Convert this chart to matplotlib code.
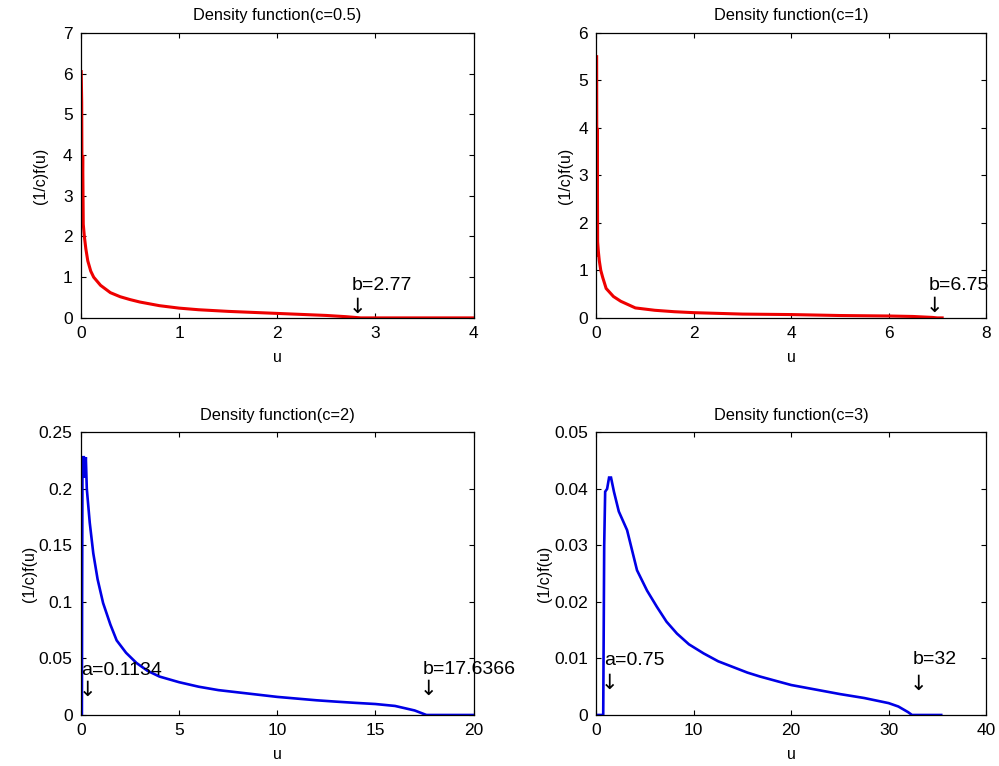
import matplotlib
matplotlib.use("Agg")
import matplotlib.pyplot as plt

plt.rcParams['font.family'] = ['Liberation Sans', 'DejaVu Sans']

# ---- data ----
u_c05 = [0.003, 0.008, 0.012, 0.018, 0.024, 0.035, 0.05, 0.07, 0.1, 0.13, 0.2, 0.3,
         0.4, 0.5, 0.6, 0.8, 1.0, 1.2, 1.5, 1.8, 2.0, 2.3, 2.5, 2.7, 2.8, 2.85, 4.0]
f_c05 = [6.05, 5.3, 2.8, 4.0, 2.3, 2.0, 1.7, 1.4, 1.15, 1.0, 0.8, 0.62,
         0.52, 0.45, 0.39, 0.3, 0.24, 0.2, 0.16, 0.13, 0.11, 0.08, 0.06, 0.03, 0.01, 0.0, 0.0]

u_c1 = [0.005, 0.012, 0.018, 0.025, 0.04, 0.06, 0.09, 0.13, 0.2, 0.35, 0.5, 0.8,
        1.2, 1.6, 2.0, 3.0, 4.0, 5.0, 6.0, 6.5, 6.9, 7.0, 7.1]
f_c1 = [5.5, 1.3, 4.0, 1.6, 1.4, 1.2, 1.0, 0.85, 0.62, 0.45, 0.35, 0.21,
        0.16, 0.13, 0.11, 0.08, 0.07, 0.05, 0.04, 0.03, 0.01, 0.0, 0.0]

u_c2 = [0.05, 0.06, 0.08, 0.15, 0.2, 0.25, 0.3, 0.45, 0.63, 0.85, 1.13, 1.5, 1.82,
        2.3, 2.83, 3.4, 4.0, 5, 6, 7, 8, 9, 10, 11, 12, 13, 14, 15, 16, 17, 17.6, 20]
f_c2 = [0.0, 0.1, 0.228, 0.228, 0.21, 0.228, 0.2, 0.17, 0.143, 0.12, 0.099, 0.08, 0.066,
        0.055, 0.046, 0.039, 0.034, 0.029, 0.025, 0.022, 0.02, 0.018, 0.016, 0.0145,
        0.013, 0.0118, 0.0107, 0.0097, 0.008, 0.004, 0.0, 0.0]

u_c3 = [0.0, 0.7, 0.75, 0.8, 0.9, 1.1, 1.3, 1.5, 1.8, 2.3, 3.15, 4.17, 5.2, 6.22,
        7.2, 8.27, 9.5, 11, 12.5, 14, 15.5, 16.8, 18.5, 20, 22.5, 25, 27.5, 30,
        31, 32, 32.4, 35.4]
f_c3 = [0.0, 0.0, 0.015, 0.03, 0.0395, 0.040, 0.042, 0.042, 0.0395, 0.036, 0.0327,
        0.0256, 0.022, 0.0191, 0.0165, 0.0144, 0.0125, 0.0109, 0.0095, 0.0085,
        0.0075, 0.0068, 0.006, 0.0053, 0.0045, 0.0037, 0.003, 0.0021, 0.0015,
        0.0005, 0.0, 0.0]

titles = ["Density function(c=0.5)", "Density function(c=1)",
          "Density function(c=2)", "Density function(c=3)"]
xlims = [(0, 4), (0, 8), (0, 20), (0, 40)]
ylims = [(0, 7), (0, 6), (0, 0.25), (0, 0.05)]
xticks = [[0, 1, 2, 3, 4], [0, 2, 4, 6, 8], [0, 5, 10, 15, 20], [0, 10, 20, 30, 40]]
yticks = [[0, 1, 2, 3, 4, 5, 6, 7], [0, 1, 2, 3, 4, 5, 6],
          [0, 0.05, 0.1, 0.15, 0.2, 0.25], [0, 0.01, 0.02, 0.03, 0.04, 0.05]]
ytick_labels = [["0", "1", "2", "3", "4", "5", "6", "7"],
                ["0", "1", "2", "3", "4", "5", "6"],
                ["0", "0.05", "0.1", "0.15", "0.2", "0.25"],
                ["0", "0.01", "0.02", "0.03", "0.04", "0.05"]]
colors = ["#ee0000", "#ee0000", "#0000e6", "#0000e6"]
series = [(u_c05, f_c05), (u_c1, f_c1), (u_c2, f_c2), (u_c3, f_c3)]

# annotations: (label, text x, text y, arrow x, arrow y)
notes = [
    [("b=2.77", 2.755, 0.80, 2.82, 0.27)],
    [("b=6.75", 6.83, 0.68, 6.95, 0.26)],
    [("a=0.1134", 0.035, 0.0393, 0.34, 0.022),
     ("b=17.6366", 17.42, 0.0406, 17.73, 0.0232)],
    [("a=0.75", 0.75, 0.0097, 1.37, 0.0056),
     ("b=32", 32.44, 0.0099, 33.06, 0.0055)],
]

fig = plt.figure(figsize=(9.99, 7.66), dpi=100)
positions = [
    [0.081, 0.585, 0.393, 0.372],
    [0.597, 0.585, 0.390, 0.372],
    [0.081, 0.0666, 0.393, 0.369],
    [0.597, 0.0666, 0.390, 0.369],
]
ylabel_x = [-0.103, -0.080, -0.130, -0.133]

for i in range(4):
    ax = fig.add_axes(positions[i])
    u, f = series[i]
    ax.plot(u, f, color=colors[i], lw=2.2 if i < 2 else 1.9, solid_joinstyle='miter')
    ax.set_xlim(*xlims[i])
    ax.set_ylim(*ylims[i])
    ax.set_xticks(xticks[i])
    ax.set_xticklabels([str(t) for t in xticks[i]])
    ax.set_yticks(yticks[i])
    ax.set_yticklabels(ytick_labels[i])
    ax.tick_params(direction='in', length=3.5, width=0.8, top=True, right=True,
                   labelsize=12.5, pad=6, colors='black')
    for s in ax.spines.values():
        s.set_linewidth(0.9)
        s.set_color('black')
    ax.set_title(titles[i], fontsize=11.8, pad=9)
    ax.set_xlabel("u", fontsize=11.5, labelpad=6)
    ax.set_ylabel("(1/c)f(u)", fontsize=11.5)
    ax.yaxis.label.set_va('center')
    ax.yaxis.set_label_coords(ylabel_x[i], 0.5)
    for (lab, tx, ty, axx, ayy) in notes[i]:
        ax.text(tx, ty, lab, fontsize=14, ha='left', va='center', color='black')
        ax.text(axx, ayy, "\u2193", fontsize=15, ha='center', va='center',
                color='black', family='DejaVu Sans')

fig.savefig("out.png", dpi=100)
